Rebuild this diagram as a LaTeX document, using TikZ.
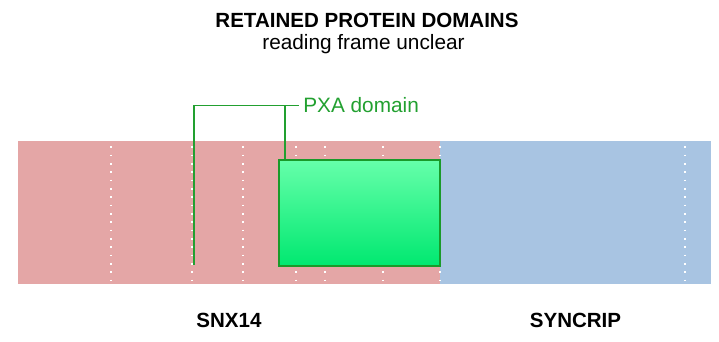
\documentclass[tikz,border=0pt]{standalone}
\usepackage{fontspec}
\setmainfont{Liberation Sans}
\usetikzlibrary{positioning}
\definecolor{snxpink}{HTML}{E4A6A6}
\definecolor{syncblue}{HTML}{A8C4E2}
\definecolor{pxatop}{HTML}{66FFAA}
\definecolor{pxabot}{HTML}{00E870}
\definecolor{pxaline}{HTML}{1A9A2A}
\definecolor{pxalabel}{HTML}{22A030}
\tikzset{
  gapline/.style={white, line width=1.2pt, dash pattern=on 1.2pt off 5.05pt},
  pxabox/.style={draw=pxaline, line width=1.5pt, top color=pxatop, bottom color=pxabot, inner sep=0pt},
  bracket/.style={draw=pxalabel, line width=1.4pt},
  headtext/.style={font=\fontsize{15.4}{18}\selectfont\bfseries},
  plaintext/.style={font=\fontsize{15.6}{18}\selectfont},
}

\begin{document}
\begin{tikzpicture}[x=0.75pt, y=-0.75pt]
  \useasboundingbox (0,0) rectangle (719,342);
  % Gene segments
  \fill[snxpink] (18,141) rectangle (440,284);
  \fill[syncblue] (440,141) rectangle (711,284);
  % Exon boundaries
  \foreach \gx in {111,192,243,296,325,383,440,685}
    \draw[gapline] (\gx,146.3) -- (\gx,284);
  % Domain box
  \node[pxabox, anchor=north west, minimum width=121pt, minimum height=79.5pt] (pxa) at (278,159) {};
  \node[plaintext, text=pxalabel, anchor=west, inner sep=3pt] (pxaname) at (299,105.5) {PXA domain};
  \coordinate (leftfoot) at (194,265);
  \coordinate (tap) at (285.3,159);
  \draw[bracket] (leftfoot) |- (pxaname.west);
  \draw[bracket] (tap) -- (tap |- pxaname.west);
  % Titles and gene names
  \node[headtext] (title) at (367,20) {RETAINED PROTEIN DOMAINS};
  \node[plaintext] (subtitle) at (363.5,44) {reading frame unclear};
  \node[headtext] (snx) at (229,320) {SNX14};
  \node[headtext] (syncrip) at (575.5,320) {SYNCRIP};
\end{tikzpicture}
\end{document}
